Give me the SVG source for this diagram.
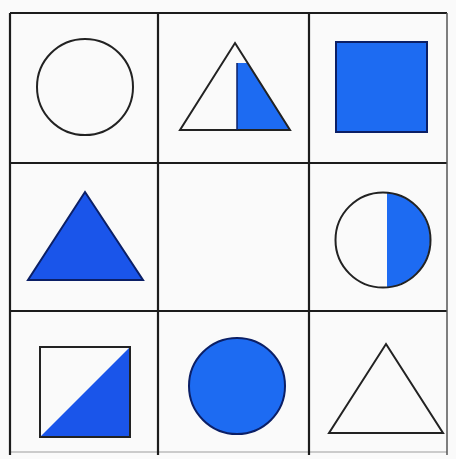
<svg xmlns="http://www.w3.org/2000/svg" width="456" height="459" viewBox="0 0 456 459">
<style>
.grid{stroke:#1c1c1c;stroke-width:2.2;fill:none}
.out{fill:none;stroke:#222;stroke-width:2}
.blue{fill:#1d6bf2;stroke:none}
.deep{fill:#1a55ea;stroke:none}
.bs{fill:#1d6bf2;stroke:#0b1f66;stroke-width:2}
.ds{fill:#1a55ea;stroke:#0b1f66;stroke-width:2}
</style>
<rect width="456" height="459" fill="#fafafa"/>
<g id="grid">
<line class="grid" x1="10" y1="13" x2="447" y2="13"/>
<line class="grid" x1="10" y1="163" x2="447" y2="163"/>
<line class="grid" x1="10" y1="311" x2="447" y2="311"/>
<line x1="10" y1="452" x2="447" y2="452" stroke="#bbb" stroke-width="1.5"/>
<line class="grid" x1="10" y1="13" x2="10" y2="455"/>
<line class="grid" x1="158" y1="13" x2="158" y2="455"/>
<line class="grid" x1="309" y1="13" x2="309" y2="455"/>
<line x1="447" y1="13" x2="447" y2="455" stroke="#555" stroke-width="1.5"/>
</g>
<g id="c00"><circle class="out" cx="85" cy="87" r="48"/></g>
<g id="c01">
<polygon class="blue" points="237,63 247.6,63 290,130 237,130"/>
<polygon class="out" points="235,43 290,130 180,130"/>
<line x1="237" y1="63" x2="237" y2="130" stroke="#0b1f66" stroke-width="1.5"/>
</g>
<g id="c02"><rect class="bs" x="336" y="42" width="91" height="90"/></g>
<g id="c10"><polygon class="ds" points="85,192 143,280 28,280"/></g>
<g id="c12">
<path class="blue" d="M387,192.7 A47.5,47.5 0 0 1 387,287.3 Z"/>
<circle class="out" cx="383" cy="240" r="47.5"/>
</g>
<g id="c20">
<polygon class="deep" points="130,347 130,437 40,437"/>
<rect class="out" x="40" y="347" width="90" height="90"/>
</g>
<g id="c21"><circle class="bs" cx="237" cy="386" r="48"/></g>
<g id="c22"><polygon class="out" points="386,344 443,433 329,433" stroke-width="1.8"/></g>
</svg>
